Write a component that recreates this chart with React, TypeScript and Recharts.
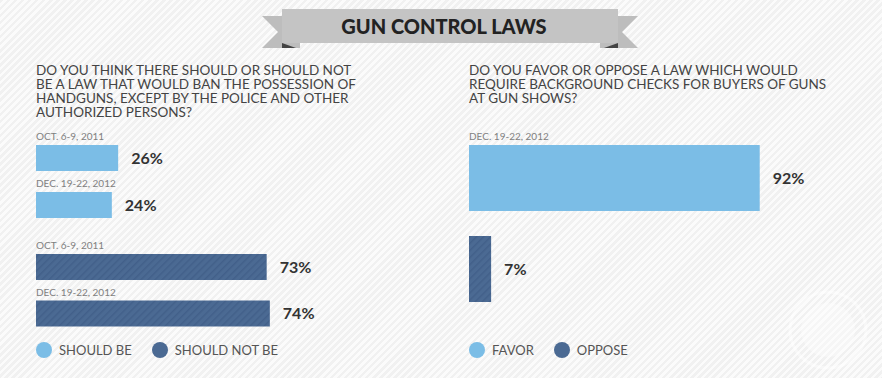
import { BarChart, Bar, XAxis, YAxis, LabelList, Cell } from "recharts";

// poll dates and answers
const pollDates = ["OCT. 6-9, 2011", "DEC. 19-22, 2012"];
const shouldBe = [26, 24];
const shouldNotBe = [73, 74];
const checkDates = ["DEC. 19-22, 2012", ""];
const checkAnswers = ["FAVOR", "OPPOSE"];
const checkValues = [92, 7];

const LIGHT = "#7bbde6";
const DARK = "#4b6a93";
const FONT = "Lato, 'Open Sans', sans-serif";
const TOP_PAD = 16; // room above the first bar for its date

const shouldBeData = pollDates.map((date, i) => ({ date, value: shouldBe[i] }));
const shouldNotData = pollDates.map((date, i) => ({ date, value: shouldNotBe[i] }));
const checkData = checkAnswers.map((answer, i) => ({
  answer,
  date: checkDates[i],
  value: checkValues[i],
}));

const DateLabel = (props: any) => {
  const { x, y, value } = props;
  if (!value) return null;
  return (
    <text x={x} y={y - 5} fill="#808080" fontSize={10} fontFamily={FONT}>
      {value}
    </text>
  );
};

const Hatch = ({ id }: { id: string }) => (
  <defs>
    <pattern id={id} width="5" height="5" patternUnits="userSpaceOnUse" patternTransform="rotate(-45)">
      <rect width="5" height="5" fill={DARK} />
      <rect width="5" height="1.5" fill="#42608a" />
    </pattern>
  </defs>
);

const pctLabel = {
  position: "right" as const,
  offset: 13,
  fill: "#333",
  fontSize: 16,
  fontWeight: 700,
  fontFamily: FONT,
  formatter: (v: any) => `${v}%`,
};

const Ribbon = () => (
  <svg width={882} height={60} style={{ position: "absolute", left: 0, top: 0 }}>
    <polygon points="262,16 300,16 300,48 262,48 278,32" fill="#bdbdbd" />
    <polygon points="638,16 600,16 600,48 638,48 622,32" fill="#bdbdbd" />
    <polygon points="282,43 296,48 282,48" fill="#444" />
    <polygon points="618,43 604,48 618,48" fill="#444" />
    <rect x={282} y={9} width={336} height={34} fill="#c4c4c4" />
    <text
      x={444}
      y={34}
      textAnchor="middle"
      fill="#222"
      fontSize={20}
      fontWeight={900}
      fontFamily={FONT}
    >
      GUN CONTROL LAWS
    </text>
  </svg>
);

const questionStyle: React.CSSProperties = {
  position: "absolute",
  color: "#444",
  fontFamily: FONT,
  fontSize: 13.5,
  lineHeight: "14px",
  textTransform: "uppercase",
  whiteSpace: "pre",
};

const LegendItem = ({ color, label }: { color: string; label: string }) => (
  <span style={{ display: "inline-flex", alignItems: "center", marginRight: 20 }}>
    <span
      style={{
        width: 16,
        height: 16,
        borderRadius: 8,
        background: color,
        display: "inline-block",
        marginRight: 7,
      }}
    />
    {label}
  </span>
);

const legendStyle: React.CSSProperties = {
  position: "absolute",
  top: 342,
  display: "flex",
  color: "#555",
  fontFamily: FONT,
  fontSize: 13,
};

const margin = { top: TOP_PAD, right: 84, bottom: 0, left: 0 };

const App = () => {
  return (
    <div
      style={{
        position: "absolute",
        left: 0,
        top: 0,
        width: 882,
        height: 384,
        overflow: "hidden",
        background:
          "repeating-linear-gradient(135deg, #f1f1f1 0px, #f1f1f1 2.5px, #fbfbfb 2.5px, #fbfbfb 5px)",
      }}
    >
      <div style={{ position: "absolute", left: 0, top: 378, width: 882, height: 6, background: "#fff" }} />
      <Ribbon />

      <div style={{ ...questionStyle, left: 36, top: 63 }}>
        {"Do you think there should or should not\nbe a law that would ban the possession of\nhandguns, except by the police and other\nauthorized persons?"}
      </div>
      <div style={{ ...questionStyle, left: 469, top: 63 }}>
        {"Do you favor or oppose a law which would\nrequire background checks for buyers of guns\nat gun shows?"}
      </div>

      <div style={{ position: "absolute", left: 36, top: 133.5 - TOP_PAD }}>
        <BarChart width={400} height={94 + TOP_PAD} data={shouldBeData} layout="vertical" margin={margin}>
          <XAxis type="number" domain={[0, 100]} hide />
          <YAxis type="category" dataKey="date" hide />
          <Bar dataKey="value" fill={LIGHT} barSize={26} isAnimationActive={false}>
            <LabelList dataKey="date" content={DateLabel} />
            <LabelList dataKey="value" {...pctLabel} />
          </Bar>
        </BarChart>
      </div>

      <div style={{ position: "absolute", left: 36, top: 244 - TOP_PAD }}>
        <BarChart width={400} height={93 + TOP_PAD} data={shouldNotData} layout="vertical" margin={margin}>
          <Hatch id="hatchA" />
          <XAxis type="number" domain={[0, 100]} hide />
          <YAxis type="category" dataKey="date" hide />
          <Bar dataKey="value" fill="url(#hatchA)" barSize={26} isAnimationActive={false}>
            <LabelList dataKey="date" content={DateLabel} />
            <LabelList dataKey="value" {...pctLabel} />
          </Bar>
        </BarChart>
      </div>

      <div style={{ position: "absolute", left: 469, top: 131.5 - TOP_PAD }}>
        <BarChart width={400} height={182 + TOP_PAD} data={checkData} layout="vertical" margin={margin}>
          <Hatch id="hatchB" />
          <XAxis type="number" domain={[0, 100]} hide />
          <YAxis type="category" dataKey="answer" hide />
          <Bar dataKey="value" barSize={66} isAnimationActive={false}>
            {checkData.map((d, i) => (
              <Cell key={d.answer} fill={i === 0 ? LIGHT : "url(#hatchB)"} />
            ))}
            <LabelList dataKey="date" content={DateLabel} />
            <LabelList dataKey="value" {...pctLabel} />
          </Bar>
        </BarChart>
      </div>

      <div style={{ ...legendStyle, left: 36 }}>
        <LegendItem color={LIGHT} label="SHOULD BE" />
        <LegendItem color={DARK} label="SHOULD NOT BE" />
      </div>
      <div style={{ ...legendStyle, left: 469 }}>
        <LegendItem color={LIGHT} label="FAVOR" />
        <LegendItem color={DARK} label="OPPOSE" />
      </div>

      <svg width={100} height={100} style={{ position: "absolute", left: 778, top: 280 }}>
        <circle cx={50} cy={50} r={38} fill="none" stroke="#fff" strokeWidth={3} opacity={0.45} />
        <circle cx={50} cy={50} r={27} fill="#fff" opacity={0.35} />
      </svg>
    </div>
  );
};

export default App;
